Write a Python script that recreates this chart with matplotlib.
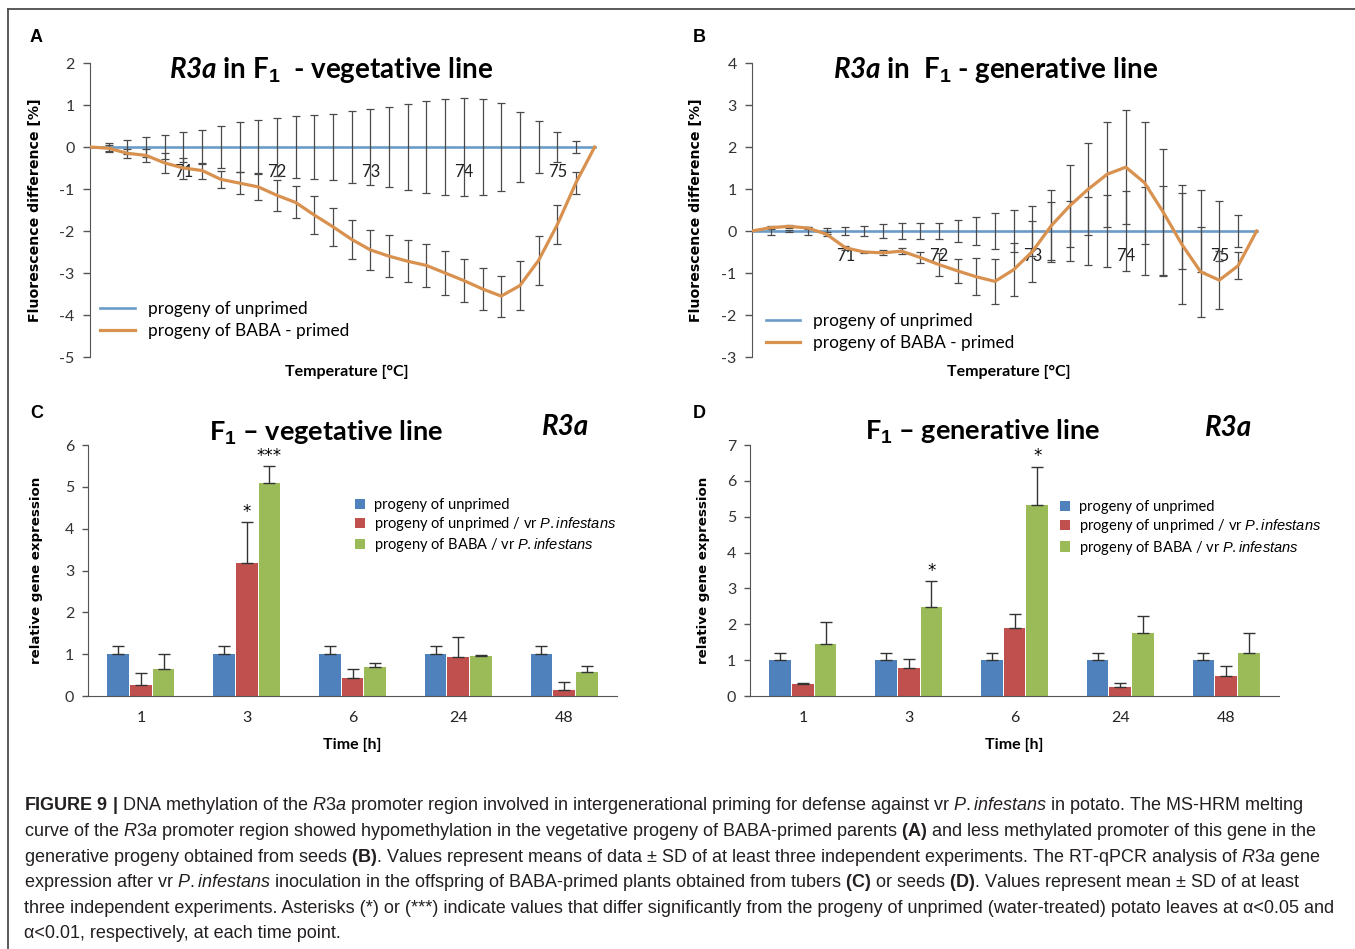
import numpy as np
import matplotlib
matplotlib.use("Agg")
import matplotlib.pyplot as plt
from matplotlib.patches import Patch
from matplotlib.lines import Line2D

plt.rcParams['font.family'] = ['Lato', 'DejaVu Sans']
plt.rcParams['axes.unicode_minus'] = False
plt.rcParams['mathtext.fontset'] = 'custom'
plt.rcParams['mathtext.rm'] = 'Liberation Sans'
plt.rcParams['mathtext.it'] = 'Liberation Sans:italic'
plt.rcParams['mathtext.bf'] = 'Liberation Sans:bold'
plt.rcParams['mathtext.bfit'] = 'Lato:italic:bold'

# --- MS-HRM melting curves (A, B) ---
temps = [70.0, 70.2, 70.4, 70.6, 70.8, 71.0, 71.2, 71.4, 71.6, 71.8, 72.0, 72.2, 72.4, 72.6,
         72.8, 73.0, 73.2, 73.4, 73.6, 73.8, 74.0, 74.2, 74.4, 74.6, 74.8, 75.0, 75.2, 75.4]
temp_ticks = [71, 72, 73, 74, 75]
unprimed_curve = [0.0] * 28

a_baba = [0, -0.03, -0.15, -0.20, -0.38, -0.50, -0.56, -0.77, -0.86, -0.95, -1.15, -1.32, -1.62, -1.90,
          -2.20, -2.45, -2.60, -2.72, -2.82, -3.00, -3.18, -3.38, -3.55, -3.30, -2.70, -1.85, -0.85, 0]
a_unprimed_sd = [0.10, 0.17, 0.24, 0.29, 0.36, 0.40, 0.50, 0.59, 0.65, 0.70, 0.74, 0.77, 0.79,
                 0.86, 0.90, 0.96, 1.03, 1.10, 1.15, 1.17, 1.15, 1.05, 0.84, 0.62, 0.36, 0.15]
a_baba_sd = [0.08, 0.10, 0.15, 0.24, 0.25, 0.19, 0.20, 0.27, 0.32, 0.37, 0.38, 0.45, 0.45,
             0.47, 0.47, 0.50, 0.50, 0.52, 0.52, 0.51, 0.50, 0.49, 0.58, 0.59, 0.46, 0.26]

b_baba = [0, 0.08, 0.11, 0.07, -0.08, -0.40, -0.50, -0.52, -0.48, -0.63, -0.80, -0.95, -1.09, -1.20,
          -0.92, -0.49, 0.12, 0.60, 1.00, 1.35, 1.52, 1.15, 0.45, -0.32, -0.97, -1.17, -0.83, 0]
b_unprimed_sd = [0.10, 0.03, 0.10, 0.06, 0.10, 0.12, 0.17, 0.18, 0.18, 0.20, 0.26, 0.34, 0.43,
                 0.50, 0.59, 0.68, 0.71, 0.80, 0.86, 0.95, 1.05, 1.07, 0.91, 0.97, 0.72, 0.39]
b_baba_sd = [0.03, 0.03, 0.03, 0.05, 0.05, 0.03, 0.06, 0.07, 0.14, 0.27, 0.28, 0.44, 0.53,
             0.63, 0.73, 0.85, 0.98, 1.10, 1.25, 1.36, 1.45, 1.50, 1.42, 1.07, 0.69, 0.32]

# --- RT-qPCR (C, D) ---
times = ['1', '3', '6', '24', '48']
unprimed_expr = [1.0, 1.0, 1.0, 1.0, 1.0]
unprimed_expr_sd = [0.2, 0.2, 0.2, 0.2, 0.2]

c_vr = [0.26, 3.17, 0.42, 0.94, 0.14]
c_vr_sd = [0.28, 0.98, 0.22, 0.46, 0.19]
c_baba = [0.64, 5.10, 0.70, 0.96, 0.57]
c_baba_sd = [0.36, 0.40, 0.10, 0.03, 0.15]
c_vr_sig = ['', '*', '', '', '']
c_baba_sig = ['', '***', '', '', '']

d_vr = [0.33, 0.79, 1.89, 0.25, 0.55]
d_vr_sd = [0.02, 0.24, 0.41, 0.12, 0.30]
d_baba = [1.45, 2.48, 5.33, 1.75, 1.19]
d_baba_sd = [0.60, 0.73, 1.07, 0.47, 0.58]
d_vr_sig = ['', '', '', '', '']
d_baba_sig = ['', '*', '*', '', '']

BLUE_LINE = '#6b9cc8'
ORANGE_LINE = '#d8914f'
BAR_BLUE = '#4f81bd'
BAR_RED = '#c0504d'
BAR_GREEN = '#9bbb59'
AX_COL = '#555555'

W, H = 1355, 949
fig = plt.figure(figsize=(W / 100, H / 100), dpi=100)


def px_axes(left, top, right, bottom):
    return fig.add_axes([left / W, 1 - bottom / H, (right - left) / W, (bottom - top) / H])


def melt_panel(ax, baba, un_sd, baba_sd, ylim, title, title_x, leg_anchor, ylabel_x):
    ax.plot(temps, unprimed_curve, color=BLUE_LINE, lw=1.9, zorder=2, label='progeny of unprimed')
    ax.errorbar(temps[1:-1], unprimed_curve[1:-1], yerr=un_sd, fmt='none', ecolor='#4a4a4a',
                elinewidth=0.9, capsize=3, capthick=0.9, zorder=3)
    ax.errorbar(temps[1:-1], baba[1:-1], yerr=baba_sd, fmt='none', ecolor='#4a4a4a',
                elinewidth=0.9, capsize=3, capthick=0.9, zorder=3)
    ax.plot(temps, baba, color=ORANGE_LINE, lw=2.3, zorder=4, label='progeny of BABA - primed',
            solid_joinstyle='round')
    ax.set_xlim(70.0, 75.5)
    ax.set_ylim(ylim)
    ax.set_yticks(range(ylim[0], ylim[1] + 1))
    ax.set_xticks(temp_ticks)
    for s in ['top', 'right']:
        ax.spines[s].set_visible(False)
    ax.spines['bottom'].set_position(('data', 0))
    ax.spines['bottom'].set_color('none')
    ax.spines['left'].set_color(AX_COL)
    ax.tick_params(axis='x', length=0, pad=12, labelsize=12, labelcolor='#222222')
    ax.tick_params(axis='y', direction='out', length=5, width=1, color=AX_COL,
                   labelsize=11.5, labelcolor='#333333', pad=6)
    ax.text(title_x, 0.976, title, transform=ax.transAxes, ha='center', va='center',
            fontsize=20, fontweight='bold')
    ax.text(0.5, -0.05, 'Temperature [°C]', transform=ax.transAxes, ha='center', va='center',
            fontsize=11.5, fontweight='bold')
    ax.set_ylabel('Fluorescence difference [%]', fontsize=10.2, fontweight='bold',
                  family='DejaVu Sans')
    ax.yaxis.set_label_coords(ylabel_x, 0.5)
    ax.legend(loc='upper left', bbox_to_anchor=leg_anchor, frameon=False, fontsize=12.4,
              handlelength=2.0, handletextpad=0.75, labelspacing=0.35, borderaxespad=0, borderpad=0)


def expr_panel(ax, vr, vr_sd, baba, baba_sd, vr_sig, baba_sig, ymax, title, title_x, title_y,
               gene_x, gene_y, leg_anchor, ylabel_x):
    x = np.arange(len(times))
    off, w = 0.215, 0.205
    ekw = dict(ecolor='#333333', elinewidth=1, capsize=4, capthick=1)
    zeros = [0] * len(times)
    ax.bar(x - off, unprimed_expr, w, yerr=[zeros, unprimed_expr_sd], color=BAR_BLUE, error_kw=ekw)
    ax.bar(x, vr, w, yerr=[zeros, vr_sd], color=BAR_RED, error_kw=ekw)
    ax.bar(x + off, baba, w, yerr=[zeros, baba_sd], color=BAR_GREEN, error_kw=ekw)
    for i in range(len(times)):
        if vr_sig[i]:
            ax.annotate(vr_sig[i], (x[i], vr[i] + vr_sd[i]), xytext=(0, 1), textcoords='offset points',
                        ha='center', va='bottom', fontsize=12, family='DejaVu Sans')
        if baba_sig[i]:
            ax.annotate(baba_sig[i], (x[i] + off, baba[i] + baba_sd[i]), xytext=(0, 1),
                        textcoords='offset points', ha='center', va='bottom', fontsize=12,
                        family='DejaVu Sans')
    ax.set_xlim(-0.5, 4.5)
    ax.set_ylim(0, ymax)
    ax.set_yticks(range(0, ymax + 1))
    ax.set_xticks(x)
    ax.set_xticklabels(times)
    for s in ['top', 'right']:
        ax.spines[s].set_visible(False)
    for s in ['left', 'bottom']:
        ax.spines[s].set_color(AX_COL)
    ax.tick_params(axis='x', length=0, pad=11, labelsize=11.5, labelcolor='#222222')
    ax.tick_params(axis='y', direction='out', length=4, width=1, color=AX_COL,
                   labelsize=11.5, labelcolor='#333333', pad=6)
    ax.text(title_x, title_y, title, transform=ax.transAxes, ha='center', va='center',
            fontsize=19.5, fontweight='bold')
    ax.text(gene_x, gene_y, 'R3a', transform=ax.transAxes, ha='center', va='center',
            fontsize=20, fontweight='bold', fontstyle='italic')
    ax.text(0.5, -0.195, 'Time [h]', transform=ax.transAxes, ha='center', va='center',
            fontsize=11.5, fontweight='bold')
    ax.set_ylabel('relative gene expression', fontsize=9.6, fontweight='bold', family='DejaVu Sans')
    ax.yaxis.set_label_coords(ylabel_x, 0.5)
    handles = [Patch(facecolor=BAR_BLUE), Patch(facecolor=BAR_RED), Patch(facecolor=BAR_GREEN)]
    labels = ['progeny of unprimed', r'progeny of unprimed / vr $\mathit{P.infestans}$',
              r'progeny of BABA / vr $\mathit{P.infestans}$']
    ax.legend(handles, labels, loc='upper left', bbox_to_anchor=leg_anchor, frameon=False,
              fontsize=10.5, handlelength=0.7, handleheight=0.7, handletextpad=0.6,
              labelspacing=0.22, borderaxespad=0, borderpad=0)


axA = px_axes(90, 63, 604, 357)
melt_panel(axA, a_baba, a_unprimed_sd, a_baba_sd, (-5, 2),
           r'$\mathbfit{R3a}$ in F$_\mathbf{1}$  - vegetative line', 0.469, (0.02, 0.19), -0.093)

axB = px_axes(752, 63, 1266, 357)
melt_panel(axB, b_baba, b_unprimed_sd, b_baba_sd, (-3, 4),
           r'$\mathbfit{R3a}$ in  F$_\mathbf{1}$ - generative line', 0.473, (0.027, 0.15), -0.095)

axC = px_axes(88, 445, 617, 696)
expr_panel(axC, c_vr, c_vr_sd, c_baba, c_baba_sd, c_vr_sig, c_baba_sig, 6,
           r'F$_\mathbf{1}$ – vegetative line', 0.45, 1.048, 0.902, 1.072, (0.505, 0.79), -0.085)

axD = px_axes(750, 445, 1279, 696)
expr_panel(axD, d_vr, d_vr_sd, d_baba, d_baba_sd, d_vr_sig, d_baba_sig, 7,
           r'F$_\mathbf{1}$ – generative line', 0.44, 1.052, 0.904, 1.068, (0.586, 0.78), -0.076)

# panel letters
for letter, (px, py) in zip('ABCD', [(30, 37), (693, 37), (30, 413), (693, 413)]):
    fig.text(px / W, 1 - py / H, letter, fontsize=13, fontweight='bold', family='Liberation Sans',
             ha='left', va='center')

# frame lines
fig.add_artist(Line2D([8 / W, 1], [1 - 9 / H, 1 - 9 / H], transform=fig.transFigure,
                      color='#4d4d4d', lw=1.3))
fig.add_artist(Line2D([8 / W, 8 / W], [0, 1 - 9 / H], transform=fig.transFigure,
                      color='#4d4d4d', lw=1.3))

caption = [
    r'$\mathbf{FIGURE\ 9\ |}$ DNA methylation of the $\mathit{R3a}$ promoter region involved in intergenerational '
    r'priming for defense against vr $\mathit{P.infestans}$ in potato. The MS-HRM melting',
    r'curve of the $\mathit{R3a}$ promoter region showed hypomethylation in the vegetative progeny of '
    r'BABA-primed parents $\mathbf{(A)}$ and less methylated promoter of this gene in the',
    r'generative progeny obtained from seeds $\mathbf{(B)}$. Values represent means of data ± SD of at least '
    r'three independent experiments. The RT-qPCR analysis of $\mathit{R3a}$ gene',
    r'expression after vr $\mathit{P.infestans}$ inoculation in the offspring of BABA-primed plants obtained '
    r'from tubers $\mathbf{(C)}$ or seeds $\mathbf{(D)}$. Values represent mean ± SD of at least',
    'three independent experiments. Asterisks (*) or (***) indicate values that differ significantly from '
    'the progeny of unprimed (water-treated) potato leaves at α<0.05 and',
    'α<0.01, respectively, at each time point.',
]
for i, line in enumerate(caption):
    fig.text(24 / W, 1 - (806 + i * 25.6) / H, line, fontsize=13, family='Liberation Sans',
             color='#231f20', ha='left', va='center')

fig.savefig('out.png', dpi=100)
